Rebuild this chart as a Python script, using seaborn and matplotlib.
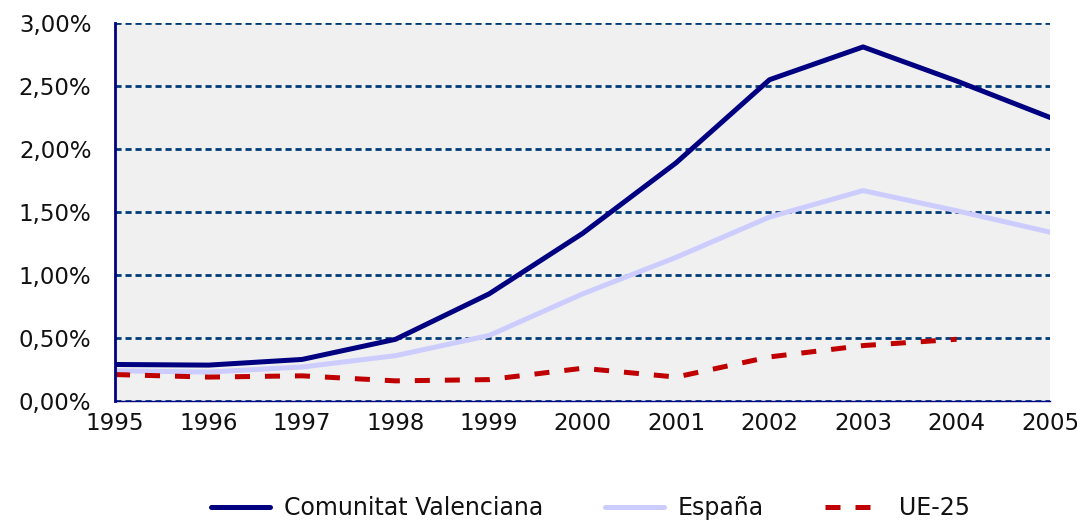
import numpy as np
import pandas as pd
import seaborn as sns
from matplotlib import pyplot as plt
from matplotlib.ticker import FuncFormatter

years = list(range(1995, 2006))
cv = [0.29, 0.285, 0.33, 0.49, 0.85, 1.33, 1.89, 2.55, 2.81, 2.54, 2.25]
espana = [0.24, 0.23, 0.27, 0.36, 0.52, 0.85, 1.14, 1.46, 1.67, 1.51, 1.34]
ue25 = [0.21, 0.19, 0.20, 0.16, 0.17, 0.26, 0.19, 0.35, 0.44, 0.49, np.nan]
series_names = ["Comunitat Valenciana", "España", "UE-25"]

df = pd.DataFrame({
    "year": years * 3,
    "value": cv + espana + ue25,
    "serie": [s for s in series_names for _ in years],
}).dropna()

sns.set_style("white")
plt.rcParams["font.family"] = ["DejaVu Sans"]

fig = plt.figure(figsize=(10.77, 5.2), dpi=100)
ax = fig.add_axes([0.1068, 0.2288, 0.8682, 0.727])
ax.set_facecolor("#f0f0f0")

palette = {"Comunitat Valenciana": "#000080", "España": "#ccccff", "UE-25": "#c00000"}
dashes = {"Comunitat Valenciana": "", "España": "", "UE-25": (3, 3)}
sns.lineplot(data=df, x="year", y="value", hue="serie", style="serie",
             palette=palette, dashes=dashes, linewidth=3.6, ax=ax, legend=False)

for yv in np.arange(0, 3.01, 0.5):
    ax.axhline(yv, color="#003c78", linestyle=(0, (2.2, 1.4)), linewidth=2.0, zorder=1)

ax.set_xlim(1995, 2005)
ax.set_ylim(0, 3.0)
ax.set_xticks(years)
ax.set_yticks(np.arange(0, 3.01, 0.5))
ax.yaxis.set_major_formatter(FuncFormatter(lambda v, p: ("%.2f%%" % v).replace(".", ",")))
ax.tick_params(axis="both", labelsize=16.5, length=0, colors="#111111")
ax.tick_params(axis="x", pad=8)
ax.tick_params(axis="y", pad=17)
ax.set_xlabel("")
ax.set_ylabel("")

for side in ["top", "right"]:
    ax.spines[side].set_visible(False)
ax.spines["left"].set_color("#000080")
ax.spines["left"].set_linewidth(2)
ax.spines["bottom"].set_color("#000080")
ax.spines["bottom"].set_linewidth(1)

handles = [plt.Line2D([], [], color=palette[s], linewidth=3.6,
                      linestyle=(0, dashes[s]) if dashes[s] else "-") for s in series_names]
fig.legend(handles, series_names, loc="center", bbox_to_anchor=(0.548, 0.023), ncol=3,
           frameon=False, fontsize=17, handlelength=2.5, handletextpad=0.6,
           columnspacing=2.6, labelcolor="#111111")

plt.savefig("out.png", dpi=100)
